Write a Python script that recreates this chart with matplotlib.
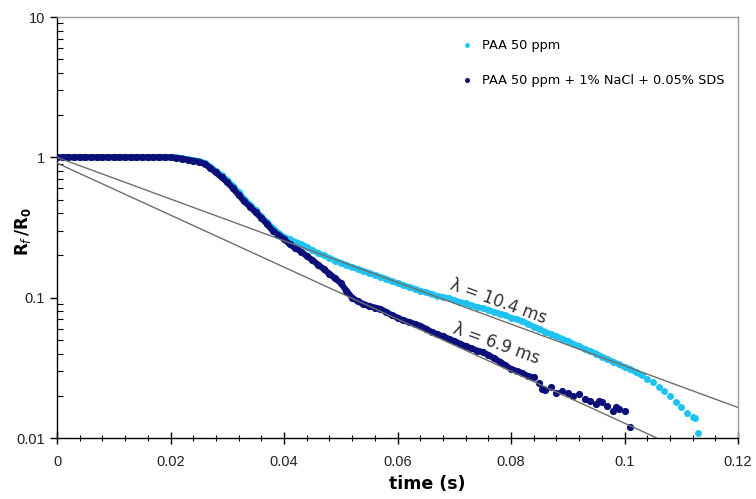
import matplotlib
matplotlib.use("Agg")
import matplotlib.pyplot as plt
from matplotlib.ticker import FixedLocator, NullFormatter, FixedFormatter

# ---------------- data ----------------
t_flat = [0.000, 0.001, 0.002, 0.003, 0.004, 0.005, 0.006, 0.007, 0.008, 0.009,
          0.010, 0.011, 0.012, 0.013, 0.014, 0.015, 0.016, 0.017, 0.018, 0.019,
          0.020, 0.021]

# PAA 50 ppm (light blue)
paa_t = t_flat + [
    0.022, 0.023, 0.024, 0.025, 0.026, 0.027, 0.028, 0.029, 0.030,
    0.031, 0.032, 0.033, 0.034, 0.035, 0.036, 0.037, 0.038, 0.039, 0.040,
    0.041, 0.042, 0.043, 0.044, 0.045, 0.046, 0.047, 0.048, 0.049, 0.050,
    0.051, 0.052, 0.053, 0.054, 0.055, 0.056, 0.057, 0.058, 0.059, 0.060,
    0.061, 0.062, 0.063, 0.064, 0.065, 0.066, 0.067, 0.068, 0.069, 0.070,
    0.071, 0.072, 0.073, 0.074, 0.075, 0.076, 0.077, 0.078, 0.079, 0.080,
    0.081, 0.082, 0.083, 0.084, 0.085, 0.086, 0.087, 0.088, 0.089, 0.090,
    0.091, 0.092, 0.093, 0.094, 0.095, 0.096, 0.097, 0.098, 0.099, 0.100,
    0.101, 0.102, 0.103, 0.104, 0.105, 0.106, 0.107, 0.108, 0.109, 0.110,
    0.111, 0.112, 0.1125, 0.113]
paa_r = [1.0] * 22 + [
    0.985, 0.97, 0.955, 0.94, 0.915, 0.86, 0.80, 0.745, 0.69,
    0.625, 0.565, 0.505, 0.46, 0.42, 0.38, 0.345, 0.315, 0.29, 0.272,
    0.26, 0.25, 0.241, 0.229, 0.218, 0.208, 0.200, 0.192, 0.184, 0.177,
    0.171, 0.165, 0.160, 0.155, 0.150, 0.145, 0.141, 0.136, 0.131, 0.127,
    0.123, 0.119, 0.116, 0.112, 0.109, 0.106, 0.103, 0.101, 0.099, 0.096,
    0.093, 0.091, 0.088, 0.086, 0.084, 0.082, 0.079, 0.077, 0.075, 0.072,
    0.070, 0.068, 0.065, 0.062, 0.060, 0.057, 0.055, 0.053, 0.051, 0.049,
    0.047, 0.045, 0.043, 0.0415, 0.040, 0.038, 0.0365, 0.035, 0.0335, 0.032,
    0.031, 0.0295, 0.028, 0.0265, 0.025, 0.023, 0.0215, 0.020, 0.018, 0.0165,
    0.015, 0.014, 0.0139, 0.0109]

# PAA 50 ppm + 1% NaCl + 0.05% SDS (dark blue)
mix_t = t_flat + [
    0.022, 0.023, 0.024, 0.025, 0.026, 0.027, 0.028, 0.029, 0.030,
    0.031, 0.032, 0.033, 0.034, 0.035, 0.036, 0.037, 0.038, 0.039, 0.040,
    0.041, 0.042, 0.043, 0.044, 0.045, 0.046, 0.047, 0.048, 0.049, 0.050,
    0.051, 0.052, 0.053, 0.054, 0.055, 0.056, 0.057, 0.058, 0.059, 0.060,
    0.061, 0.062, 0.063, 0.064, 0.065, 0.066, 0.067, 0.068, 0.069, 0.070,
    0.071, 0.072, 0.073, 0.074, 0.075, 0.076, 0.077, 0.078, 0.079, 0.080,
    0.081, 0.082, 0.083, 0.084, 0.085, 0.0855, 0.086, 0.087, 0.088, 0.089,
    0.090, 0.091, 0.092, 0.093, 0.094, 0.095, 0.0955, 0.096, 0.097, 0.098,
    0.0985, 0.099, 0.100, 0.101]
mix_r = [1.0] * 21 + [0.99] + [
    0.98, 0.96, 0.945, 0.93, 0.90, 0.84, 0.78, 0.72, 0.665,
    0.60, 0.54, 0.485, 0.445, 0.405, 0.37, 0.335, 0.30, 0.28, 0.262,
    0.24, 0.225, 0.213, 0.198, 0.185, 0.172, 0.160, 0.148, 0.137, 0.127,
    0.112, 0.100, 0.094, 0.090, 0.087, 0.085, 0.083, 0.079, 0.075, 0.072,
    0.069, 0.067, 0.065, 0.063, 0.060, 0.057, 0.055, 0.053, 0.051, 0.049,
    0.047, 0.045, 0.0435, 0.042, 0.041, 0.039, 0.037, 0.035, 0.033, 0.031,
    0.030, 0.029, 0.0275, 0.027, 0.0245, 0.0225, 0.022, 0.023, 0.021, 0.0215,
    0.021, 0.020, 0.0205, 0.019, 0.0185, 0.0175, 0.0185, 0.018, 0.0168, 0.0155,
    0.0165, 0.016, 0.0155, 0.012]

# number of leading points that form a dense (continuous-looking) band
paa_dense = 104
mix_dense = 85

# exponential fit lines: (t_start, R_start, t_end, R_end)
fit_t = [[0.0, 0.12], [0.0, 0.1057]]
fit_r = [[1.0, 0.0165], [0.91, 0.01]]
fit_labels = ["λ = 10.4 ms", "λ = 6.9 ms"]
fit_label_pos = [(0.0777, 0.094), (0.0775, 0.047)]

labels = ["PAA 50 ppm", "PAA 50 ppm + 1% NaCl + 0.05% SDS"]
x_ticks = [0, 0.02, 0.04, 0.06, 0.08, 0.1, 0.12]
x_tick_labels = ["0", "0.02", "0.04", "0.06", "0.08", "0.1", "0.12"]
y_ticks = [0.01, 0.1, 1, 10]
y_tick_labels = ["0.01", "0.1", "1", "10"]

# ---------------- plot ----------------
light = "#1fc3f2"
dark = "#0b0f7a"

fig = plt.figure(figsize=(7.56, 4.99), dpi=100)
ax = fig.add_axes([57 / 756, 1 - 438 / 499, 681 / 756, 421 / 499])

ax.plot(paa_t[:paa_dense], paa_r[:paa_dense], "-", color=light, lw=4.2,
        solid_capstyle="round", solid_joinstyle="round", zorder=3)
ax.plot(paa_t, paa_r, "o", color=light, ms=5.0, mec="none", label=labels[0], zorder=3)
ax.plot(mix_t[:mix_dense], mix_r[:mix_dense], "-", color=dark, lw=4.4,
        solid_capstyle="round", solid_joinstyle="round", zorder=4)
ax.plot(mix_t, mix_r, "o", color=dark, ms=5.2, mec="none", label=labels[1], zorder=4)
for ft, fr in zip(fit_t, fit_r):
    ax.plot(ft, fr, "-", color="#6e6e6e", lw=1.0, zorder=5)

for lab, (tx, ty) in zip(fit_labels, fit_label_pos):
    ax.text(tx, ty, lab, rotation=-20, ha="center", va="center",
            fontsize=12, color="#333333", family="DejaVu Sans", zorder=6)

ax.set_yscale("log")
ax.set_xlim(0, 0.12)
ax.set_ylim(0.01, 10)

ax.xaxis.set_major_locator(FixedLocator(x_ticks))
ax.xaxis.set_major_formatter(FixedFormatter(x_tick_labels))
ax.xaxis.set_minor_locator(FixedLocator([i * 0.004 for i in range(31)]))
ax.yaxis.set_major_locator(FixedLocator(y_ticks))
ax.yaxis.set_major_formatter(FixedFormatter(y_tick_labels))
minors = [m * d for d in (0.01, 0.1, 1) for m in range(2, 10)]
ax.yaxis.set_minor_locator(FixedLocator(minors))
ax.yaxis.set_minor_formatter(NullFormatter())

ax.tick_params(axis="x", which="major", direction="inout", length=8, width=1,
               labelsize=10.5, pad=8, labelcolor="#222222")
ax.tick_params(axis="x", which="minor", direction="inout", length=5, width=0.8)
ax.tick_params(axis="y", which="major", direction="out", length=5, width=1,
               labelsize=10.5, labelcolor="#222222")
ax.tick_params(axis="y", which="minor", direction="in", length=4, width=0.8)
for lab in ax.get_xticklabels() + ax.get_yticklabels():
    lab.set_family("Liberation Sans")

ax.spines["left"].set_color("black")
ax.spines["bottom"].set_color("black")
ax.spines["top"].set_color("#9a9a9a")
ax.spines["right"].set_color("#9a9a9a")
for s in ax.spines.values():
    s.set_linewidth(1.0)

ax.set_xlabel("time (s)", fontsize=12.5, fontweight="bold")
ax.xaxis.set_label_coords((427 - 57) / 681, (438 - 475) / 421)
ax.set_ylabel(r"$\mathbf{R}_{\mathit{f}}\,\mathbf{/R_0}$", fontsize=12)
ax.yaxis.set_label_coords((33 - 57) / 681, (438 - 232) / 421)

leg = ax.legend(loc="upper left", bbox_to_anchor=(0.58, 0.975), frameon=False,
                handlelength=0.6, handletextpad=0.8, labelspacing=1.7,
                markerscale=0.7, prop={"family": "DejaVu Sans", "size": 9.3})

fig.savefig("out.png", dpi=100)
